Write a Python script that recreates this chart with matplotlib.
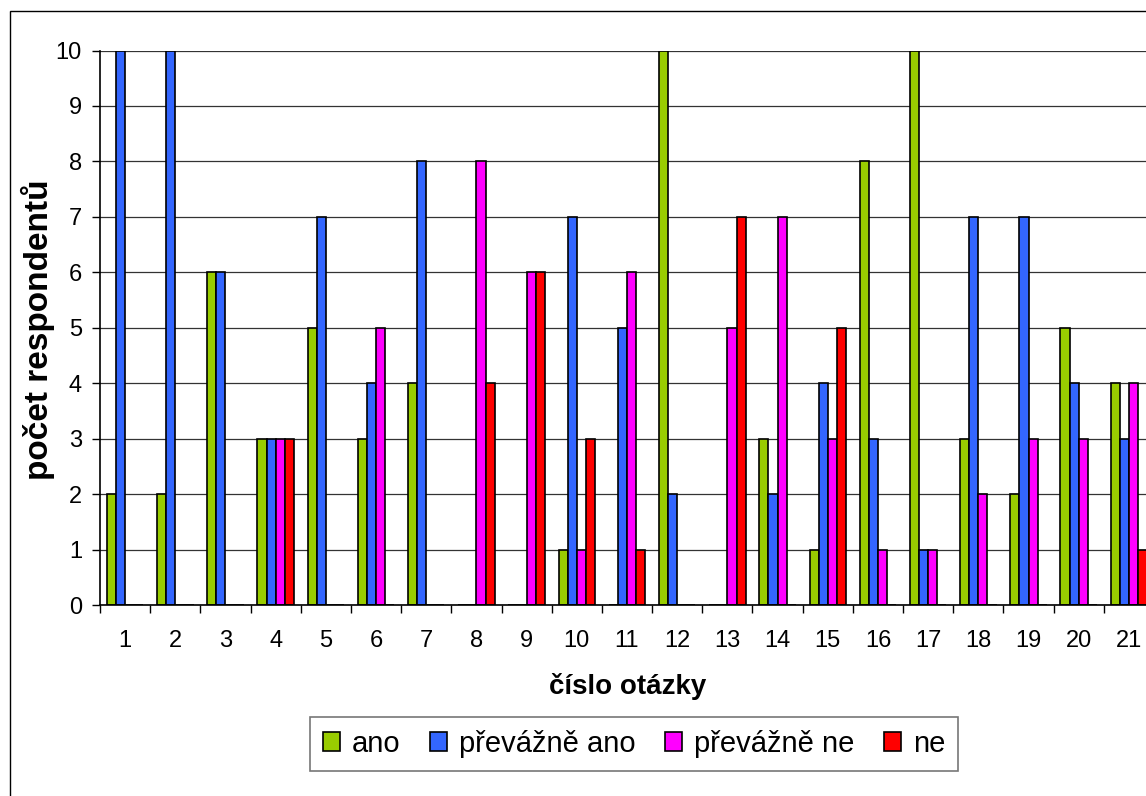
import numpy as np
import matplotlib
matplotlib.use('Agg')
from matplotlib import pyplot as plt
from matplotlib.patches import Rectangle

plt.rcParams['font.family'] = ['Liberation Sans', 'DejaVu Sans']

questions = [str(i) for i in range(1, 22)]
series_names = ['ano', 'převážně ano', 'převážně ne', 'ne']
colors = ['#99CC00', '#3366FF', '#FF00FF', '#FF0000']

ano = [2, 2, 6, 3, 5, 3, 4, 0, 0, 1, 0, 10, 0, 3, 1, 8, 10, 3, 2, 5, 4]
prevazne_ano = [10, 10, 6, 3, 7, 4, 8, 0, 0, 7, 5, 2, 0, 2, 4, 3, 1, 7, 7, 4, 3]
prevazne_ne = [0, 0, 0, 3, 0, 5, 0, 8, 6, 1, 6, 0, 5, 7, 3, 1, 1, 2, 3, 3, 4]
ne = [0, 0, 0, 3, 0, 0, 0, 4, 6, 3, 1, 0, 7, 0, 5, 0, 0, 0, 0, 0, 1]
series = [ano, prevazne_ano, prevazne_ne, ne]

W, H = 1146, 796
fig = plt.figure(figsize=(W / 100, H / 100), dpi=100)

# plot area runs past the right edge of the picture, as in the original
ax_left, ax_right, ax_top, ax_bottom = 100, 1154, 50.5, 605
ax = fig.add_axes([ax_left / W, 1 - ax_bottom / H,
                   (ax_right - ax_left) / W, (ax_bottom - ax_top) / H])

n = len(questions)
x = np.arange(n)
w = 1 / 5.5  # 4 bars + 150 % gap
for j, (name, vals, col) in enumerate(zip(series_names, series, colors)):
    ax.bar(x - 0.5 + 0.75 * w + j * w, vals, width=w, align='edge',
           color=col, edgecolor='black', linewidth=1.2, label=name, zorder=3)

ax.set_xlim(-0.5, n - 0.5)
ax.set_ylim(0, 10)
ax.set_yticks(range(0, 11))
ax.set_xticks(x)
ax.set_xticklabels(questions)
ax.set_xticks(np.arange(n + 1) - 0.5, minor=True)
ax.tick_params(axis='x', which='major', length=0, pad=18, labelsize=17)
ax.tick_params(axis='x', which='minor', length=6, width=1, color='black')
ax.tick_params(axis='y', length=6, width=1, pad=7, labelsize=17)
ax.grid(axis='y', color='#333333', linewidth=0.9, zorder=0)
ax.set_axisbelow(True)
for s in ['top', 'right']:
    ax.spines[s].set_visible(False)
for s in ['left', 'bottom']:
    ax.spines[s].set_linewidth(1.2)
    ax.spines[s].set_zorder(4)

fig.text(38 / W, 1 - 330 / H, 'počet respondentů', rotation=90,
         ha='center', va='center', fontsize=24, fontweight='bold')
fig.text(628 / W, 1 - 686 / H, 'číslo otázky',
         ha='center', va='center', fontsize=20, fontweight='bold')

leg = fig.legend(loc='center', bbox_to_anchor=(634 / W, 1 - 744 / H), ncol=4,
                 fontsize=21, frameon=True, fancybox=False, shadow=False,
                 handlelength=0.6, handleheight=0.6, handletextpad=0.4,
                 columnspacing=1.0, borderpad=0.45)
leg.get_frame().set_edgecolor('#555555')
leg.get_frame().set_linewidth(1.2)

# chart area border
fig.patches.append(Rectangle((9.5 / W, -0.1), 1.2, 1.1 - 11 / H,
                             transform=fig.transFigure, fill=False,
                             edgecolor='black', linewidth=1.0))

fig.savefig('out.png', dpi=100)
